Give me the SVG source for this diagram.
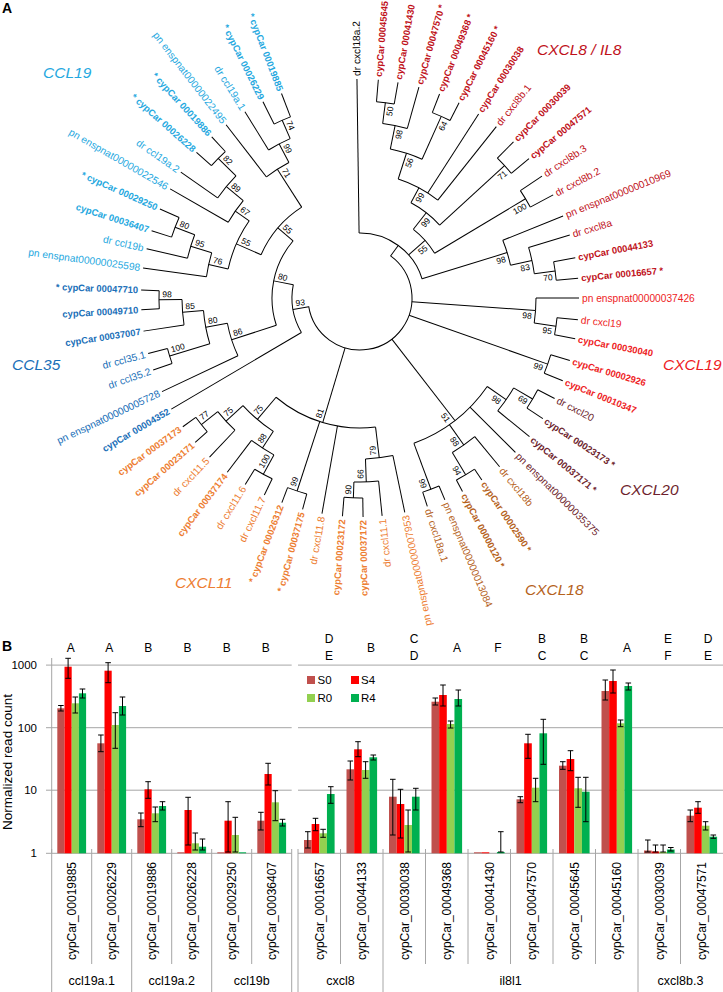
<svg xmlns="http://www.w3.org/2000/svg" width="723" height="992" viewBox="0 0 723 992">
<style>
text{font-family:"Liberation Sans",Arial,sans-serif}
.n{font-size:10.2px}
.b{font-size:9.4px;font-weight:700}
.L{text-anchor:end}
.bs{font-size:8.5px;text-anchor:middle;fill:#000}
.c19{fill:#25a8e0}.c35{fill:#1a6fb8}.x11{fill:#ed7d31}.x18{fill:#b5621c}.x20{fill:#6e1f2e}.x19{fill:#ee1c24}.x8{fill:#c0111a}.blk{fill:#000}
.cl{font-size:15.5px;font-style:italic}
.pl{font-size:14px;font-weight:700}
#conn path,#conn circle{stroke:#000;stroke-width:1;fill:none}
.grid{stroke:#a6a6a6;stroke-width:1;fill:none}
.s0{fill:#c0504d}.s4{fill:#ff0000}.r0{fill:#92d050}.r4{fill:#00b050}
.err{stroke:#000;stroke-width:1;fill:none}
.ax{font-size:11.5px;text-anchor:end}
.gn{font-size:12px;text-anchor:end}
.gp{font-size:12.5px;text-anchor:middle}
.lt{font-size:12px;text-anchor:middle}
.lg{font-size:11.5px}
</style>
<rect width="723" height="992" fill="#fff"/>
<text class="pl" x="2" y="13">A</text>
<text class="pl" x="2" y="651">B</text>

<!-- clade labels -->
<text class="cl c19" x="43" y="78">CCL19</text>
<text class="cl x8" x="537" y="55">CXCL8 / IL8</text>
<text class="cl c35" x="12" y="370">CCL35</text>
<text class="cl x19" x="663" y="370">CXCL19</text>
<text class="cl x20" x="620" y="495">CXCL20</text>
<text class="cl x11" x="175" y="588">CXCL11</text>
<text class="cl x18" x="525" y="595">CXCL18</text>

<!-- connectors -->
<g id="conn">
<circle cx="360" cy="298" r="52" stroke-dasharray="203.6 2000" transform="rotate(-53.975 360 298)"/>
<circle cx="360" cy="298" r="194" stroke-dasharray="17.95 2000" transform="rotate(243.7 360 298)"/>
<circle cx="360" cy="298" r="174" stroke-dasharray="24.45 2000" transform="rotate(238.3 360 298)"/>
<circle cx="360" cy="298" r="153" stroke-dasharray="26.77 2000" transform="rotate(232.3 360 298)"/>
<circle cx="360" cy="298" r="199" stroke-dasharray="19.8 2000" transform="rotate(221.7 360 298)"/>
<circle cx="360" cy="298" r="174" stroke-dasharray="28.7 2000" transform="rotate(215.1 360 298)"/>
<circle cx="360" cy="298" r="152" stroke-dasharray="26.33 2000" transform="rotate(209.9 360 298)"/>
<circle cx="360" cy="298" r="198" stroke-dasharray="21.08 2000" transform="rotate(197.9 360 298)"/>
<circle cx="360" cy="298" r="177" stroke-dasharray="24.56 2000" transform="rotate(193 360 298)"/>
<circle cx="360" cy="298" r="155" stroke-dasharray="24.55 2000" transform="rotate(187.9 360 298)"/>
<circle cx="360" cy="298" r="135" stroke-dasharray="52.83 2000" transform="rotate(192.44 360 298)"/>
<circle cx="360" cy="298" r="108" stroke-dasharray="63.45 2000" transform="rotate(203.65 360 298)"/>
<circle cx="360" cy="298" r="201" stroke-dasharray="18.24 2000" transform="rotate(176.9 360 298)"/>
<circle cx="360" cy="298" r="178" stroke-dasharray="25.47 2000" transform="rotate(171.3 360 298)"/>
<circle cx="360" cy="298" r="199" stroke-dasharray="15.63 2000" transform="rotate(160.8 360 298)"/>
<circle cx="360" cy="298" r="157" stroke-dasharray="33.84 2000" transform="rotate(163.05 360 298)"/>
<circle cx="360" cy="298" r="135" stroke-dasharray="34.22 2000" transform="rotate(154.7 360 298)"/>
<circle cx="360" cy="298" r="88" stroke-dasharray="89.88 2000" transform="rotate(161.96 360 298)"/>
<circle cx="360" cy="298" r="68" stroke-dasharray="49.51 2000" transform="rotate(149.5 360 298)"/>
<circle cx="360" cy="298" r="203" stroke-dasharray="18.42 2000" transform="rotate(138.8 360 298)"/>
<circle cx="360" cy="298" r="182" stroke-dasharray="25.41 2000" transform="rotate(133.4 360 298)"/>
<circle cx="360" cy="298" r="201" stroke-dasharray="20 2000" transform="rotate(115.9 360 298)"/>
<circle cx="360" cy="298" r="179" stroke-dasharray="26.71 2000" transform="rotate(118.75 360 298)"/>
<circle cx="360" cy="298" r="159" stroke-dasharray="39.89 2000" transform="rotate(123.025 360 298)"/>
<circle cx="360" cy="298" r="203" stroke-dasharray="20.19 2000" transform="rotate(105.2 360 298)"/>
<circle cx="360" cy="298" r="200" stroke-dasharray="18.85 2000" transform="rotate(89.2 360 298)"/>
<circle cx="360" cy="298" r="184" stroke-dasharray="24.73 2000" transform="rotate(84.2 360 298)"/>
<circle cx="360" cy="298" r="161" stroke-dasharray="27.68 2000" transform="rotate(78.2 360 298)"/>
<circle cx="360" cy="298" r="130" stroke-dasharray="106.83 2000" transform="rotate(83.125 360 298)"/>
<circle cx="360" cy="298" r="200" stroke-dasharray="21.29 2000" transform="rotate(27.3 360 298)"/>
<circle cx="360" cy="298" r="178" stroke-dasharray="27.8 2000" transform="rotate(30.35 360 298)"/>
<circle cx="360" cy="298" r="206" stroke-dasharray="21.21 2000" transform="rotate(56.2 360 298)"/>
<circle cx="360" cy="298" r="180" stroke-dasharray="27.49 2000" transform="rotate(50.4 360 298)"/>
<circle cx="360" cy="298" r="204" stroke-dasharray="17.45 2000" transform="rotate(67.2 360 298)"/>
<circle cx="360" cy="298" r="155" stroke-dasharray="94.21 2000" transform="rotate(34.825 360 298)"/>
<circle cx="360" cy="298" r="198" stroke-dasharray="17.28 2000" transform="rotate(5.7 360 298)"/>
<circle cx="360" cy="298" r="176" stroke-dasharray="25.19 2000" transform="rotate(0 360 298)"/>
<circle cx="360" cy="298" r="199" stroke-dasharray="19.45 2000" transform="rotate(16.6 360 298)"/>
<circle cx="360" cy="298" r="197" stroke-dasharray="17.88 2000" transform="rotate(-85.2 360 298)"/>
<circle cx="360" cy="298" r="176" stroke-dasharray="25.19 2000" transform="rotate(-82.6 360 298)"/>
<circle cx="360" cy="298" r="199" stroke-dasharray="19.45 2000" transform="rotate(-68.7 360 298)"/>
<circle cx="360" cy="298" r="152" stroke-dasharray="33.43 2000" transform="rotate(-78.5 360 298)"/>
<circle cx="360" cy="298" r="196" stroke-dasharray="20.52 2000" transform="rotate(-45.5 360 298)"/>
<circle cx="360" cy="298" r="125" stroke-dasharray="45.16 2000" transform="rotate(-72.2 360 298)"/>
<circle cx="360" cy="298" r="193" stroke-dasharray="19.2 2000" transform="rotate(-33.8 360 298)"/>
<circle cx="360" cy="298" r="108" stroke-dasharray="36.47 2000" transform="rotate(-61.85 360 298)"/>
<circle cx="360" cy="298" r="197" stroke-dasharray="18.57 2000" transform="rotate(-10.6 360 298)"/>
<circle cx="360" cy="298" r="176" stroke-dasharray="27.03 2000" transform="rotate(-16.7 360 298)"/>
<circle cx="360" cy="298" r="154" stroke-dasharray="26.07 2000" transform="rotate(-22 360 298)"/>
<circle cx="360" cy="298" r="87" stroke-dasharray="32.23 2000" transform="rotate(-52.175 360 298)"/>
<circle cx="360" cy="298" r="65" stroke-dasharray="83.55 2000" transform="rotate(-90.8 360 298)"/>
<!-- internal radial -->
<path d="M534 298H554" transform="rotate(246.35 360 298)"/>
<path d="M513 298H534" transform="rotate(242.325 360 298)"/>
<path d="M468 298H513" transform="rotate(237.31 360 298)"/>
<path d="M534 298H559" transform="rotate(224.55 360 298)"/>
<path d="M512 298H534" transform="rotate(219.825 360 298)"/>
<path d="M495 298H512" transform="rotate(214.86 360 298)"/>
<path d="M537 298H558" transform="rotate(200.95 360 298)"/>
<path d="M515 298H537" transform="rotate(196.975 360 298)"/>
<path d="M495 298H515" transform="rotate(192.44 360 298)"/>
<path d="M468 298H495" transform="rotate(203.65 360 298)"/>
<path d="M448 298H468" transform="rotate(220.48 360 298)"/>
<path d="M538 298H561" transform="rotate(179.5 360 298)"/>
<path d="M517 298H538" transform="rotate(175.4 360 298)"/>
<path d="M517 298H559" transform="rotate(163.05 360 298)"/>
<path d="M495 298H517" transform="rotate(169.225 360 298)"/>
<path d="M448 298H495" transform="rotate(161.96 360 298)"/>
<path d="M428 298H448" transform="rotate(191.22 360 298)"/>
<path d="M412 298H428" transform="rotate(170.36 360 298)"/>
<path d="M542 298H563" transform="rotate(141.4 360 298)"/>
<path d="M519 298H542" transform="rotate(137.4 360 298)"/>
<path d="M539 298H561" transform="rotate(118.75 360 298)"/>
<path d="M519 298H539" transform="rotate(123.025 360 298)"/>
<path d="M490 298H519" transform="rotate(130.21 360 298)"/>
<path d="M490 298H563" transform="rotate(108.05 360 298)"/>
<path d="M544 298H560" transform="rotate(91.9 360 298)"/>
<path d="M521 298H544" transform="rotate(88.05 360 298)"/>
<path d="M490 298H521" transform="rotate(83.125 360 298)"/>
<path d="M412 298H490" transform="rotate(106.67 360 298)"/>
<path d="M538 298H560" transform="rotate(30.35 360 298)"/>
<path d="M515 298H538" transform="rotate(34.825 360 298)"/>
<path d="M540 298H566" transform="rotate(59.15 360 298)"/>
<path d="M515 298H540" transform="rotate(54.775 360 298)"/>
<path d="M515 298H564" transform="rotate(69.65 360 298)"/>
<path d="M412 298H515" transform="rotate(52.24 360 298)"/>
<path d="M536 298H558" transform="rotate(8.2 360 298)"/>
<path d="M412 298H536" transform="rotate(4.1 360 298)"/>
<path d="M412 298H559" transform="rotate(19.4 360 298)"/>
<path d="M536 298H557" transform="rotate(-82.6 360 298)"/>
<path d="M512 298H536" transform="rotate(-78.5 360 298)"/>
<path d="M512 298H559" transform="rotate(-65.9 360 298)"/>
<path d="M485 298H512" transform="rotate(-72.2 360 298)"/>
<path d="M468 298H556" transform="rotate(-42.5 360 298)"/>
<path d="M468 298H485" transform="rotate(-61.85 360 298)"/>
<path d="M447 298H553" transform="rotate(-30.95 360 298)"/>
<path d="M447 298H468" transform="rotate(-52.175 360 298)"/>
<path d="M536 298H557" transform="rotate(-7.9 360 298)"/>
<path d="M514 298H536" transform="rotate(-12.3 360 298)"/>
<path d="M425 298H514" transform="rotate(-17.15 360 298)"/>
<path d="M425 298H447" transform="rotate(-41.56 360 298)"/>
<path d="M412 298H425" transform="rotate(-53.975 360 298)"/>
<!-- leaf lines -->
<path d="M554 298H579" transform="rotate(249 360 298)"/>
<path d="M554 298H579" transform="rotate(243.7 360 298)"/>
<path d="M534 298H579" transform="rotate(238.3 360 298)"/>
<path d="M513 298H579" transform="rotate(232.3 360 298)"/>
<path d="M559 298H579" transform="rotate(227.4 360 298)"/>
<path d="M559 298H579" transform="rotate(221.7 360 298)"/>
<path d="M534 298H579" transform="rotate(215.1 360 298)"/>
<path d="M512 298H579" transform="rotate(209.9 360 298)"/>
<path d="M558 298H579" transform="rotate(204 360 298)"/>
<path d="M558 298H579" transform="rotate(197.9 360 298)"/>
<path d="M537 298H579" transform="rotate(193 360 298)"/>
<path d="M515 298H579" transform="rotate(187.9 360 298)"/>
<path d="M561 298H579" transform="rotate(182.1 360 298)"/>
<path d="M561 298H579" transform="rotate(176.9 360 298)"/>
<path d="M538 298H579" transform="rotate(171.3 360 298)"/>
<path d="M559 298H579" transform="rotate(165.3 360 298)"/>
<path d="M559 298H579" transform="rotate(160.8 360 298)"/>
<path d="M495 298H579" transform="rotate(154.7 360 298)"/>
<path d="M428 298H579" transform="rotate(149.5 360 298)"/>
<path d="M563 298H579" transform="rotate(144 360 298)"/>
<path d="M563 298H579" transform="rotate(138.8 360 298)"/>
<path d="M542 298H579" transform="rotate(133.4 360 298)"/>
<path d="M539 298H579" transform="rotate(127.3 360 298)"/>
<path d="M561 298H579" transform="rotate(121.6 360 298)"/>
<path d="M561 298H579" transform="rotate(115.9 360 298)"/>
<path d="M563 298H579" transform="rotate(110.9 360 298)"/>
<path d="M563 298H579" transform="rotate(105.2 360 298)"/>
<path d="M490 298H579" transform="rotate(100 360 298)"/>
<path d="M560 298H579" transform="rotate(94.6 360 298)"/>
<path d="M560 298H579" transform="rotate(89.2 360 298)"/>
<path d="M544 298H579" transform="rotate(84.2 360 298)"/>
<path d="M521 298H579" transform="rotate(78.2 360 298)"/>
<path d="M564 298H579" transform="rotate(72.1 360 298)"/>
<path d="M564 298H579" transform="rotate(67.2 360 298)"/>
<path d="M566 298H579" transform="rotate(62.1 360 298)"/>
<path d="M566 298H579" transform="rotate(56.2 360 298)"/>
<path d="M540 298H579" transform="rotate(50.4 360 298)"/>
<path d="M515 298H579" transform="rotate(44.8 360 298)"/>
<path d="M538 298H579" transform="rotate(39.3 360 298)"/>
<path d="M560 298H579" transform="rotate(33.4 360 298)"/>
<path d="M560 298H579" transform="rotate(27.3 360 298)"/>
<path d="M559 298H579" transform="rotate(22.2 360 298)"/>
<path d="M559 298H579" transform="rotate(16.6 360 298)"/>
<path d="M558 298H579" transform="rotate(10.7 360 298)"/>
<path d="M558 298H579" transform="rotate(5.7 360 298)"/>
<path d="M536 298H579" transform="rotate(0 360 298)"/>
<path d="M557 298H579" transform="rotate(-5.2 360 298)"/>
<path d="M557 298H579" transform="rotate(-10.6 360 298)"/>
<path d="M536 298H579" transform="rotate(-16.7 360 298)"/>
<path d="M514 298H579" transform="rotate(-22 360 298)"/>
<path d="M553 298H579" transform="rotate(-28.1 360 298)"/>
<path d="M553 298H579" transform="rotate(-33.8 360 298)"/>
<path d="M556 298H579" transform="rotate(-39.5 360 298)"/>
<path d="M556 298H579" transform="rotate(-45.5 360 298)"/>
<path d="M485 298H579" transform="rotate(-51.5 360 298)"/>
<path d="M485 298H579" transform="rotate(-57.2 360 298)"/>
<path d="M559 298H579" transform="rotate(-63.1 360 298)"/>
<path d="M559 298H579" transform="rotate(-68.7 360 298)"/>
<path d="M536 298H579" transform="rotate(-74.4 360 298)"/>
<path d="M557 298H579" transform="rotate(-80 360 298)"/>
<path d="M557 298H579" transform="rotate(-85.2 360 298)"/>
<path d="M425 298H579" transform="rotate(-90.8 360 298)"/>
</g>

<!-- bootstrap values -->
<g id="bootstrap">
<text class="bs" x="174" y="298" dy=".35em" transform="rotate(68.04 360 298)">74</text>
<text class="bs" x="194" y="298" dy=".35em" transform="rotate(64.2 360 298)">99</text>
<text class="bs" x="215" y="298" dy=".35em" transform="rotate(59.5 360 298)">71</text>
<text class="bs" x="169" y="298" dy=".35em" transform="rotate(46.2 360 298)">82</text>
<text class="bs" x="194" y="298" dy=".35em" transform="rotate(41.7 360 298)">89</text>
<text class="bs" x="216" y="298" dy=".35em" transform="rotate(37.05 360 298)">67</text>
<text class="bs" x="170" y="298" dy=".35em" transform="rotate(22.6 360 298)">80</text>
<text class="bs" x="191" y="298" dy=".35em" transform="rotate(18.8 360 298)">95</text>
<text class="bs" x="213" y="298" dy=".35em" transform="rotate(14.6 360 298)">76</text>
<text class="bs" x="233" y="298" dy=".35em" transform="rotate(26.1 360 298)">55</text>
<text class="bs" x="260" y="298" dy=".35em" transform="rotate(43.6 360 298)">55</text>
<text class="bs" x="167" y="298" dy=".35em" transform="rotate(1.1 360 298)">98</text>
<text class="bs" x="190" y="298" dy=".35em" transform="rotate(-2.75 360 298)">85</text>
<text class="bs" x="171" y="298" dy=".35em" transform="rotate(-15.3 360 298)">100</text>
<text class="bs" x="211" y="298" dy=".35em" transform="rotate(-8.65 360 298)">80</text>
<text class="bs" x="233" y="298" dy=".35em" transform="rotate(-15.6 360 298)">86</text>
<text class="bs" x="280" y="298" dy=".35em" transform="rotate(15.2 360 298)">80</text>
<text class="bs" x="300" y="298" dy=".35em" transform="rotate(-4.4 360 298)">93</text>
<text class="bs" x="165" y="298" dy=".35em" transform="rotate(-37 360 298)">77</text>
<text class="bs" x="186" y="298" dy=".35em" transform="rotate(-40.8 360 298)">75</text>
<text class="bs" x="171" y="298" dy=".35em" transform="rotate(-59.6 360 298)">100</text>
<text class="bs" x="189" y="298" dy=".35em" transform="rotate(-55.1 360 298)">88</text>
<text class="bs" x="209" y="298" dy=".35em" transform="rotate(-47.7 360 298)">75</text>
<text class="bs" x="165" y="298" dy=".35em" transform="rotate(-70.3 360 298)">99</text>
<text class="bs" x="168" y="298" dy=".35em" transform="rotate(-86.5 360 298)">90</text>
<text class="bs" x="184" y="298" dy=".35em" transform="rotate(-90.2 360 298)">66</text>
<text class="bs" x="207" y="298" dy=".35em" transform="rotate(-94.8 360 298)">79</text>
<text class="bs" x="238" y="298" dy=".35em" transform="rotate(-70.75 360 298)">81</text>
<text class="bs" x="552" y="298" dy=".35em" transform="rotate(32 360 298)">69</text>
<text class="bs" x="530" y="298" dy=".35em" transform="rotate(36.7 360 298)">98</text>
<text class="bs" x="558" y="298" dy=".35em" transform="rotate(60.7 360 298)">94</text>
<text class="bs" x="532" y="298" dy=".35em" transform="rotate(56.6 360 298)">88</text>
<text class="bs" x="556" y="298" dy=".35em" transform="rotate(71.3 360 298)">99</text>
<text class="bs" x="507" y="298" dy=".35em" transform="rotate(54.4 360 298)">51</text>
<text class="bs" x="550" y="298" dy=".35em" transform="rotate(9.9 360 298)">95</text>
<text class="bs" x="528" y="298" dy=".35em" transform="rotate(6 360 298)">98</text>
<text class="bs" x="551" y="298" dy=".35em" transform="rotate(21.05 360 298)">99</text>
<text class="bs" x="549" y="298" dy=".35em" transform="rotate(-80.9 360 298)">50</text>
<text class="bs" x="528" y="298" dy=".35em" transform="rotate(-76.6 360 298)">98</text>
<text class="bs" x="551" y="298" dy=".35em" transform="rotate(-64.25 360 298)">64</text>
<text class="bs" x="504" y="298" dy=".35em" transform="rotate(-70 360 298)">56</text>
<text class="bs" x="548" y="298" dy=".35em" transform="rotate(-40.8 360 298)">71</text>
<text class="bs" x="477" y="298" dy=".35em" transform="rotate(-59.16 360 298)">99</text>
<text class="bs" x="543" y="298" dy=".35em" transform="rotate(-29.2 360 298)">100</text>
<text class="bs" x="460" y="298" dy=".35em" transform="rotate(-49 360 298)">99</text>
<text class="bs" x="549" y="298" dy=".35em" transform="rotate(-6.2 360 298)">70</text>
<text class="bs" x="528" y="298" dy=".35em" transform="rotate(-10.4 360 298)">83</text>
<text class="bs" x="506" y="298" dy=".35em" transform="rotate(-15 360 298)">98</text>
<text class="bs" x="439" y="298" dy=".35em" transform="rotate(-37.57 360 298)">55</text>
</g>

<!-- leaves -->
<g id="leaf01" class="c19"><text class="b L" x="138" y="298" dy=".35em" transform="rotate(69 360 298)">* cypCar 00019885</text></g>
<g id="leaf02" class="c19"><text class="b L" x="138" y="298" dy=".35em" transform="rotate(63.7 360 298)">* cypCar 00026229</text></g>
<g id="leaf03" class="c19"><text class="n L" x="138" y="298" dy=".35em" transform="rotate(58.3 360 298)">dr ccl19a.1</text></g>
<g id="leaf04" class="c19"><text class="n L" x="138" y="298" dy=".35em" transform="rotate(52.3 360 298)">pn enspnat00000022495</text></g>
<g id="leaf05" class="c19"><text class="b L" x="138" y="298" dy=".35em" transform="rotate(47.4 360 298)">* cypCar 00019886</text></g>
<g id="leaf06" class="c19"><text class="b L" x="138" y="298" dy=".35em" transform="rotate(41.7 360 298)">* cypCar 00026228</text></g>
<g id="leaf07" class="c19"><text class="n L" x="138" y="298" dy=".35em" transform="rotate(35.1 360 298)">dr ccl19a.2</text></g>
<g id="leaf08" class="c19"><text class="n L" x="138" y="298" dy=".35em" transform="rotate(29.9 360 298)">pn enspnat00000022546</text></g>
<g id="leaf09" class="c19"><text class="b L" x="138" y="298" dy=".35em" transform="rotate(24 360 298)">* cypCar 00029250</text></g>
<g id="leaf10" class="c19"><text class="b L" x="138" y="298" dy=".35em" transform="rotate(17.9 360 298)">cypCar 00036407</text></g>
<g id="leaf11" class="c19"><text class="n L" x="138" y="298" dy=".35em" transform="rotate(13 360 298)">dr ccl19b</text></g>
<g id="leaf12" class="c19"><text class="n L" x="138" y="298" dy=".35em" transform="rotate(7.9 360 298)">pn enspnat00000025598</text></g>
<g id="leaf13" class="c35"><text class="b L" x="138" y="298" dy=".35em" transform="rotate(2.1 360 298)">* cypCar 00047710</text></g>
<g id="leaf14" class="c35"><text class="b L" x="138" y="298" dy=".35em" transform="rotate(-3.1 360 298)">cypCar 00049710</text></g>
<g id="leaf15" class="c35"><text class="b L" x="138" y="298" dy=".35em" transform="rotate(-8.7 360 298)">cypCar 00037007</text></g>
<g id="leaf16" class="c35"><text class="n L" x="138" y="298" dy=".35em" transform="rotate(-14.7 360 298)">dr ccl35.1</text></g>
<g id="leaf17" class="c35"><text class="n L" x="138" y="298" dy=".35em" transform="rotate(-19.2 360 298)">dr ccl35.2</text></g>
<g id="leaf18" class="c35"><text class="n L" x="138" y="298" dy=".35em" transform="rotate(-25.3 360 298)">pn enspnat00000005728</text></g>
<g id="leaf19" class="c35"><text class="b L" x="138" y="298" dy=".35em" transform="rotate(-30.5 360 298)">cypCar 00004352</text></g>
<g id="leaf20" class="x11"><text class="b L" x="138" y="298" dy=".35em" transform="rotate(-36 360 298)">cypCar 00037173</text></g>
<g id="leaf21" class="x11"><text class="b L" x="138" y="298" dy=".35em" transform="rotate(-41.2 360 298)">cypCar 00023171</text></g>
<g id="leaf22" class="x11"><text class="n L" x="138" y="298" dy=".35em" transform="rotate(-46.6 360 298)">dr cxcl11.5</text></g>
<g id="leaf23" class="x11"><text class="b L" x="138" y="298" dy=".35em" transform="rotate(-52.7 360 298)">cypCar 00037174</text></g>
<g id="leaf24" class="x11"><text class="n L" x="138" y="298" dy=".35em" transform="rotate(-58.4 360 298)">dr cxcl11.6</text></g>
<g id="leaf25" class="x11"><text class="n L" x="138" y="298" dy=".35em" transform="rotate(-64.1 360 298)">dr cxcl11.7</text></g>
<g id="leaf26" class="x11"><text class="b L" x="138" y="298" dy=".35em" transform="rotate(-69.1 360 298)">* cypCar 00026312</text></g>
<g id="leaf27" class="x11"><text class="b L" x="138" y="298" dy=".35em" transform="rotate(-74.8 360 298)">* cypCar 00037175</text></g>
<g id="leaf28" class="x11"><text class="n L" x="138" y="298" dy=".35em" transform="rotate(-80 360 298)">dr cxcl11.8</text></g>
<g id="leaf29" class="x11"><text class="b L" x="138" y="298" dy=".35em" transform="rotate(-85.4 360 298)">cypCar 00023172</text></g>
<g id="leaf30" class="x11"><text class="b L" x="138" y="298" dy=".35em" transform="rotate(-90.8 360 298)">cypCar 00037172</text></g>
<g id="leaf31" class="x11"><text class="n L" x="138" y="298" dy=".35em" transform="rotate(-95.8 360 298)">dr cxcl11.1</text></g>
<g id="leaf32" class="x11"><text class="n L" x="138" y="298" dy=".35em" transform="rotate(-101.8 360 298)">pn enspnat00000007953</text></g>
<g id="leaf33" class="x18"><text class="n" x="582" y="298" dy=".35em" transform="rotate(72.1 360 298)">dr cxcl18a.1</text></g>
<g id="leaf34" class="x18"><text class="n" x="582" y="298" dy=".35em" transform="rotate(67.2 360 298)">pn enspnat00000013084</text></g>
<g id="leaf35" class="x18"><text class="b" x="582" y="298" dy=".35em" transform="rotate(62.1 360 298)">cypCar 00000120 *</text></g>
<g id="leaf36" class="x18"><text class="b" x="582" y="298" dy=".35em" transform="rotate(56.2 360 298)">cypCar 00002590 *</text></g>
<g id="leaf37" class="x18"><text class="n" x="582" y="298" dy=".35em" transform="rotate(50.4 360 298)">dr cxcl18b</text></g>
<g id="leaf38" class="x20"><text class="n" x="582" y="298" dy=".35em" transform="rotate(44.8 360 298)">pn enspnat00000035375</text></g>
<g id="leaf39" class="x20"><text class="b" x="582" y="298" dy=".35em" transform="rotate(39.3 360 298)">cypCar 00037171 *</text></g>
<g id="leaf40" class="x20"><text class="b" x="582" y="298" dy=".35em" transform="rotate(33.4 360 298)">cypCar 00023173 *</text></g>
<g id="leaf41" class="x20"><text class="n" x="582" y="298" dy=".35em" transform="rotate(27.3 360 298)">dr cxcl20</text></g>
<g id="leaf42" class="x19"><text class="b" x="582" y="298" dy=".35em" transform="rotate(22.2 360 298)">cypCar 00010347</text></g>
<g id="leaf43" class="x19"><text class="b" x="582" y="298" dy=".35em" transform="rotate(16.6 360 298)">cypCar 00002926</text></g>
<g id="leaf44" class="x19"><text class="b" x="582" y="298" dy=".35em" transform="rotate(10.7 360 298)">cypCar 00030040</text></g>
<g id="leaf45" class="x19"><text class="n" x="582" y="298" dy=".35em" transform="rotate(5.7 360 298)">dr cxcl19</text></g>
<g id="leaf46" class="x19"><text class="n" x="582" y="298" dy=".35em" transform="rotate(0 360 298)">pn enspnat00000037426</text></g>
<g id="leaf47" class="x8"><text class="b" x="582" y="298" dy=".35em" transform="rotate(-5.2 360 298)">cypCar 00016657 *</text></g>
<g id="leaf48" class="x8"><text class="b" x="582" y="298" dy=".35em" transform="rotate(-10.6 360 298)">cypCar 00044133</text></g>
<g id="leaf49" class="x8"><text class="n" x="582" y="298" dy=".35em" transform="rotate(-16.7 360 298)">dr cxcl8a</text></g>
<g id="leaf50" class="x8"><text class="n" x="582" y="298" dy=".35em" transform="rotate(-22 360 298)">pn enspnat00000010969</text></g>
<g id="leaf51" class="x8"><text class="n" x="582" y="298" dy=".35em" transform="rotate(-28.1 360 298)">dr cxcl8b.2</text></g>
<g id="leaf52" class="x8"><text class="n" x="582" y="298" dy=".35em" transform="rotate(-33.8 360 298)">dr cxcl8b.3</text></g>
<g id="leaf53" class="x8"><text class="b" x="582" y="298" dy=".35em" transform="rotate(-39.5 360 298)">cypCar 00047571</text></g>
<g id="leaf54" class="x8"><text class="b" x="582" y="298" dy=".35em" transform="rotate(-45.5 360 298)">cypCar 00030039</text></g>
<g id="leaf55" class="x8"><text class="n" x="582" y="298" dy=".35em" transform="rotate(-51.5 360 298)">dr cxcl8b.1</text></g>
<g id="leaf56" class="x8"><text class="b" x="582" y="298" dy=".35em" transform="rotate(-57.2 360 298)">cypCar 00030038</text></g>
<g id="leaf57" class="x8"><text class="b" x="582" y="298" dy=".35em" transform="rotate(-63.1 360 298)">cypCar 00045160 *</text></g>
<g id="leaf58" class="x8"><text class="b" x="582" y="298" dy=".35em" transform="rotate(-68.7 360 298)">cypCar 00049368 *</text></g>
<g id="leaf59" class="x8"><text class="b" x="582" y="298" dy=".35em" transform="rotate(-74.4 360 298)">cypCar 00047570 *</text></g>
<g id="leaf60" class="x8"><text class="b" x="582" y="298" dy=".35em" transform="rotate(-80 360 298)">cypCar 00041430</text></g>
<g id="leaf61" class="x8"><text class="b" x="582" y="298" dy=".35em" transform="rotate(-85.2 360 298)">cypCar 00045645</text></g>
<g id="leaf62" class="blk"><text class="n" x="582" y="298" dy=".35em" transform="rotate(-90.8 360 298)">dr cxcl18a.2</text></g>

<!-- Panel B -->
<g id="chart-axes">
<path class="grid" d="M46 665.1H291.7M298 665.1H723M46 727.7H291.7M298 727.7H723M46 790.2H291.7M298 790.2H723M46 853.3H291.7M298 853.3H723M51.7 658V853.3"/>
<path class="grid" d="M51.7 849V992M131.7 849V992M211.7 849V992M291.7 849V992M298 849V992M383 849V992M638 849V992M91.7 849V964M171.7 849V964M251.7 849V964M340.5 849V964M425.5 849V964M468 849V964M510.5 849V964M553 849V964M595.5 849V964M680.5 849V964"/>
<text class="ax" x="37" y="665.1" dy=".35em">1000</text>
<text class="ax" x="37" y="727.7" dy=".35em">100</text>
<text class="ax" x="37" y="790.2" dy=".35em">10</text>
<text class="ax" x="37" y="853.3" dy=".35em">1</text>
<text font-size="13.5" text-anchor="middle" transform="translate(12 762) rotate(-90)">Normalized read count</text>
</g>

<g id="bars">
<rect class="s0" x="57.3" y="708.3" width="7.2" height="145"/><rect class="s4" x="64.5" y="666.7" width="7.2" height="186.6"/><rect class="r0" x="71.7" y="703.3" width="7.2" height="150"/><rect class="r4" x="78.9" y="693.3" width="7.2" height="160"/>
<rect class="s0" x="97.3" y="743.3" width="7.2" height="110"/><rect class="s4" x="104.5" y="670.7" width="7.2" height="182.6"/><rect class="r0" x="111.7" y="725" width="7.2" height="128.3"/><rect class="r4" x="118.9" y="706" width="7.2" height="147.3"/>
<rect class="s0" x="137.3" y="819.3" width="7.2" height="34"/><rect class="s4" x="144.5" y="789.3" width="7.2" height="64"/><rect class="r0" x="151.7" y="813.3" width="7.2" height="40"/><rect class="r4" x="158.9" y="806" width="7.2" height="47.3"/>
<rect class="s0" x="177.3" y="852.3" width="7.2" height="1"/><rect class="s4" x="184.5" y="810" width="7.2" height="43.3"/><rect class="r0" x="191.7" y="843.3" width="7.2" height="10"/><rect class="r4" x="198.9" y="846.7" width="7.2" height="6.6"/>
<rect class="s0" x="217.3" y="852.3" width="7.2" height="1"/><rect class="s4" x="224.5" y="820.7" width="7.2" height="32.6"/><rect class="r0" x="231.7" y="835" width="7.2" height="18.3"/><rect class="r4" x="238.9" y="852.3" width="7.2" height="1"/>
<rect class="s0" x="257.3" y="820.7" width="7.2" height="32.6"/><rect class="s4" x="264.5" y="774" width="7.2" height="79.3"/><rect class="r0" x="271.7" y="802.3" width="7.2" height="51"/><rect class="r4" x="278.9" y="822.7" width="7.2" height="30.6"/>
<rect class="s0" x="304" y="840" width="7.65" height="13.3"/><rect class="s4" x="311.65" y="824" width="7.65" height="29.3"/><rect class="r0" x="319.3" y="833.3" width="7.65" height="20"/><rect class="r4" x="326.95" y="794" width="7.65" height="59.3"/>
<rect class="s0" x="346.5" y="769.3" width="7.65" height="84"/><rect class="s4" x="354.15" y="749.3" width="7.65" height="104"/><rect class="r0" x="361.8" y="770" width="7.65" height="83.3"/><rect class="r4" x="369.45" y="757.3" width="7.65" height="96"/>
<rect class="s0" x="389" y="796.7" width="7.65" height="56.6"/><rect class="s4" x="396.65" y="804" width="7.65" height="49.3"/><rect class="r0" x="404.3" y="825" width="7.65" height="28.3"/><rect class="r4" x="411.95" y="796.7" width="7.65" height="56.6"/>
<rect class="s0" x="431.5" y="701.7" width="7.65" height="151.6"/><rect class="s4" x="439.15" y="695" width="7.65" height="158.3"/><rect class="r0" x="446.8" y="724" width="7.65" height="129.3"/><rect class="r4" x="454.45" y="699" width="7.65" height="154.3"/>
<rect class="s0" x="474" y="852.3" width="7.65" height="1"/><rect class="s4" x="481.65" y="852.3" width="7.65" height="1"/><rect class="r4" x="496.95" y="852" width="7.65" height="1.3"/>
<rect class="s0" x="516.5" y="799.3" width="7.65" height="54"/><rect class="s4" x="524.15" y="743.3" width="7.65" height="110"/><rect class="r0" x="531.8" y="787.7" width="7.65" height="65.6"/><rect class="r4" x="539.45" y="733.3" width="7.65" height="120"/>
<rect class="s0" x="559" y="765.7" width="7.65" height="87.6"/><rect class="s4" x="566.65" y="759" width="7.65" height="94.3"/><rect class="r0" x="574.3" y="788.3" width="7.65" height="65"/><rect class="r4" x="581.95" y="791.7" width="7.65" height="61.6"/>
<rect class="s0" x="601.5" y="691" width="7.65" height="162.3"/><rect class="s4" x="609.15" y="681" width="7.65" height="172.3"/><rect class="r0" x="616.8" y="723.3" width="7.65" height="130"/><rect class="r4" x="624.45" y="686" width="7.65" height="167.3"/>
<rect class="s0" x="644" y="850.5" width="7.65" height="2.8"/><rect class="s4" x="651.65" y="851.5" width="7.65" height="1.8"/><rect class="r0" x="659.3" y="852" width="7.65" height="1.3"/><rect class="r4" x="666.95" y="849.5" width="7.65" height="3.8"/>
<rect class="s0" x="686.5" y="815.7" width="7.65" height="37.6"/><rect class="s4" x="694.15" y="807.7" width="7.65" height="45.6"/><rect class="r0" x="701.8" y="825.7" width="7.65" height="27.6"/><rect class="r4" x="709.45" y="836.7" width="7.65" height="16.6"/>
</g>

<path id="errorbars" class="err" d="M60.9 705.5V711M58.1 705.5h5.6M58.1 711h5.6M68.1 658.3V678.3M65.3 658.3h5.6M65.3 678.3h5.6M75.3 697V713M72.5 697h5.6M72.5 713h5.6M82.5 689V698M79.7 689h5.6M79.7 698h5.6M100.9 735V751.7M98.1 735h5.6M98.1 751.7h5.6M108.1 662.7V682.7M105.3 662.7h5.6M105.3 682.7h5.6M115.3 712.7V748.3M112.5 712.7h5.6M112.5 748.3h5.6M122.5 697V715M119.7 697h5.6M119.7 715h5.6M140.9 813V826.7M138.1 813h5.6M138.1 826.7h5.6M148.1 781.7V798.3M145.3 781.7h5.6M145.3 798.3h5.6M155.3 807V821.7M152.5 807h5.6M152.5 821.7h5.6M162.5 801.7V810M159.7 801.7h5.6M159.7 810h5.6M188.1 797.3V845M185.3 797.3h5.6M185.3 845h5.6M195.3 833V850M192.5 833h5.6M192.5 850h5.6M202.5 839V850M199.7 839h5.6M199.7 850h5.6M228.1 801.7V852M225.3 801.7h5.6M225.3 852h5.6M235.3 817.3V852M232.5 817.3h5.6M232.5 852h5.6M260.9 812.3V830M258.1 812.3h5.6M258.1 830h5.6M268.1 763.3V785M265.3 763.3h5.6M265.3 785h5.6M275.3 790.7V820.7M272.5 790.7h5.6M272.5 820.7h5.6M282.5 819.3V826M279.7 819.3h5.6M279.7 826h5.6M307.8 831.7V848M305 831.7h5.6M305 848h5.6M315.5 818.3V830.7M312.7 818.3h5.6M312.7 830.7h5.6M323.1 829.3V837.3M320.3 829.3h5.6M320.3 837.3h5.6M330.8 786.7V803.3M328 786.7h5.6M328 803.3h5.6M350.3 761V780M347.5 761h5.6M347.5 780h5.6M358 741.7V756.7M355.2 741.7h5.6M355.2 756.7h5.6M365.6 761.7V778.3M362.8 761.7h5.6M362.8 778.3h5.6M373.3 755V760M370.5 755h5.6M370.5 760h5.6M392.8 779.3V835M390 779.3h5.6M390 835h5.6M400.5 789.3V838M397.7 789.3h5.6M397.7 838h5.6M408.1 810V852M405.3 810h5.6M405.3 852h5.6M415.8 788.3V810M413 788.3h5.6M413 810h5.6M435.3 698V705M432.5 698h5.6M432.5 705h5.6M443 685V706M440.2 685h5.6M440.2 706h5.6M450.6 721V728M447.8 721h5.6M447.8 728h5.6M458.3 690V706M455.5 690h5.6M455.5 706h5.6M500.8 831.7V852M498 831.7h5.6M498 852h5.6M520.3 796.7V802.7M517.5 796.7h5.6M517.5 802.7h5.6M528 734.3V758.3M525.2 734.3h5.6M525.2 758.3h5.6M535.6 778.3V801.7M532.8 778.3h5.6M532.8 801.7h5.6M543.3 719.3V764.3M540.5 719.3h5.6M540.5 764.3h5.6M562.8 761.7V769.3M560 761.7h5.6M560 769.3h5.6M570.5 750.7V770.7M567.7 750.7h5.6M567.7 770.7h5.6M578.1 777.3V807.3M575.3 777.3h5.6M575.3 807.3h5.6M585.8 777.3V821.7M583 777.3h5.6M583 821.7h5.6M605.3 680V700M602.5 680h5.6M602.5 700h5.6M613 670V693M610.2 670h5.6M610.2 693h5.6M620.6 720V726.7M617.8 720h5.6M617.8 726.7h5.6M628.3 683V690M625.5 683h5.6M625.5 690h5.6M647.8 840V852M645 840h5.6M645 852h5.6M655.5 845V852M652.7 845h5.6M652.7 852h5.6M663.1 845V852M660.3 845h5.6M660.3 852h5.6M670.8 847.5V851M668 847.5h5.6M668 851h5.6M690.3 810V821.7M687.5 810h5.6M687.5 821.7h5.6M698 801.7V813.3M695.2 801.7h5.6M695.2 813.3h5.6M705.6 821.7V830M702.8 821.7h5.6M702.8 830h5.6M713.3 835V838.3M710.5 835h5.6M710.5 838.3h5.6"/>

<g id="legend">
<rect class="s0" x="307" y="676" width="8" height="8"/><text class="lg" x="317.5" y="684">S0</text>
<rect class="s4" x="351" y="676" width="8" height="8"/><text class="lg" x="361" y="684">S4</text>
<rect class="r0" x="307" y="694" width="8" height="8"/><text class="lg" x="317.5" y="702">R0</text>
<rect class="r4" x="351" y="694" width="8" height="8"/><text class="lg" x="361" y="702">R4</text>
</g>

<g id="letters">
<text class="lt" x="70.8" y="652">A</text>
<text class="lt" x="109.2" y="652">A</text>
<text class="lt" x="148.3" y="652">B</text>
<text class="lt" x="187.5" y="652">B</text>
<text class="lt" x="226.7" y="652">B</text>
<text class="lt" x="265.8" y="652">B</text>
<text class="lt" x="329" y="643">D</text><text class="lt" x="329" y="660">E</text>
<text class="lt" x="371" y="652">B</text>
<text class="lt" x="414" y="643">C</text><text class="lt" x="414" y="660">D</text>
<text class="lt" x="457" y="652">A</text>
<text class="lt" x="498" y="652">F</text>
<text class="lt" x="542" y="643">B</text><text class="lt" x="542" y="660">C</text>
<text class="lt" x="584" y="643">B</text><text class="lt" x="584" y="660">C</text>
<text class="lt" x="627" y="652">A</text>
<text class="lt" x="668" y="643">E</text><text class="lt" x="668" y="660">F</text>
<text class="lt" x="708" y="643">D</text><text class="lt" x="708" y="660">E</text>
</g>

<g id="gene-labels">
<text class="gn" transform="translate(76 862) rotate(-90)">cypCar_00019885</text>
<text class="gn" transform="translate(116 862) rotate(-90)">cypCar_00026229</text>
<text class="gn" transform="translate(156 862) rotate(-90)">cypCar_00019886</text>
<text class="gn" transform="translate(196 862) rotate(-90)">cypCar_00026228</text>
<text class="gn" transform="translate(236 862) rotate(-90)">cypCar_00029250</text>
<text class="gn" transform="translate(276 862) rotate(-90)">cypCar_00036407</text>
<text class="gn" transform="translate(323.7 862) rotate(-90)">cypCar_00016657</text>
<text class="gn" transform="translate(366.2 862) rotate(-90)">cypCar_00044133</text>
<text class="gn" transform="translate(408.7 862) rotate(-90)">cypCar_00030038</text>
<text class="gn" transform="translate(451.2 862) rotate(-90)">cypCar_00049368</text>
<text class="gn" transform="translate(493.7 862) rotate(-90)">cypCar_00041430</text>
<text class="gn" transform="translate(536.2 862) rotate(-90)">cypCar_00047570</text>
<text class="gn" transform="translate(578.7 862) rotate(-90)">cypCar_00045645</text>
<text class="gn" transform="translate(621.2 862) rotate(-90)">cypCar_00045160</text>
<text class="gn" transform="translate(663.7 862) rotate(-90)">cypCar_00030039</text>
<text class="gn" transform="translate(706.2 862) rotate(-90)">cypCar_00047571</text>
</g>
<g id="group-labels">
<text class="gp" x="91.7" y="985">ccl19a.1</text>
<text class="gp" x="171.7" y="985">ccl19a.2</text>
<text class="gp" x="251.7" y="985">ccl19b</text>
<text class="gp" x="340.5" y="985">cxcl8</text>
<text class="gp" x="510.5" y="985">il8l1</text>
<text class="gp" x="680.5" y="985">cxcl8b.3</text>
</g>
</svg>
